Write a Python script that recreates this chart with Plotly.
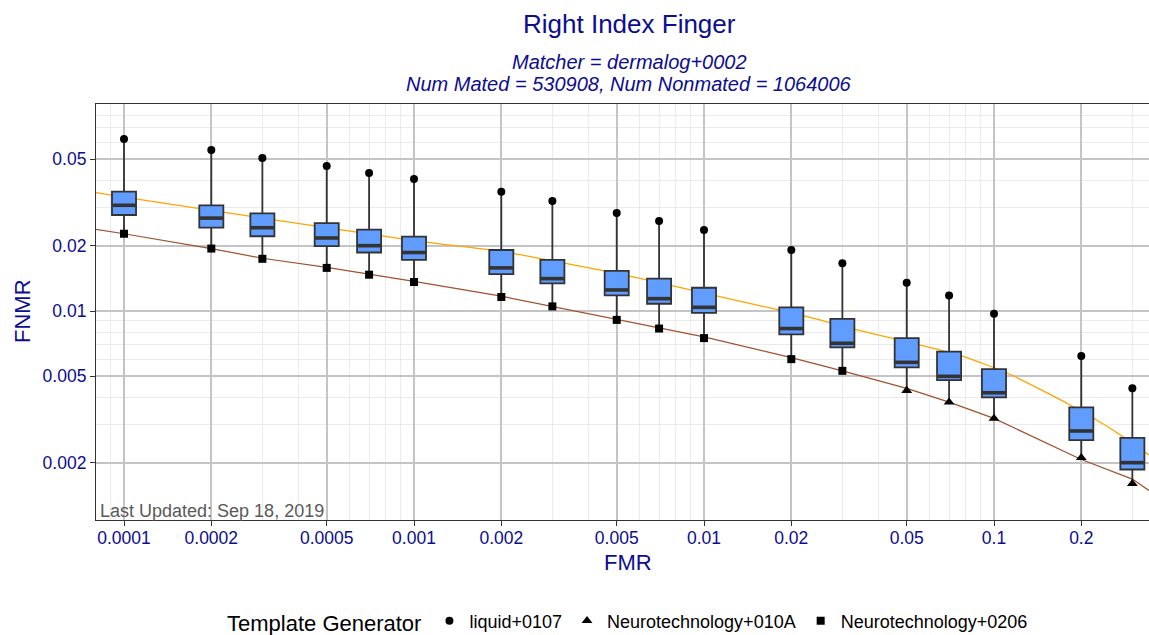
import numpy as np
import plotly.graph_objects as go

# ---------------- data ----------------
fmr = [0.0001, 0.0002, 0.0003, 0.0005, 0.0007, 0.001, 0.002, 0.003, 0.005,
       0.007, 0.01, 0.02, 0.03, 0.05, 0.07, 0.1, 0.2, 0.3]

# upper whisker end = liquid+0107 point
liquid_max = [0.0620, 0.0552, 0.0507, 0.0466, 0.0433, 0.0406, 0.0354, 0.0321, 0.0283,
              0.0260, 0.0236, 0.0191, 0.0166, 0.0135, 0.0118, 0.0097, 0.0062, 0.0044]
box_q3 = [0.0355, 0.0307, 0.0282, 0.0254, 0.0237, 0.0220, 0.0191, 0.0172, 0.0153,
          0.0141, 0.0128, 0.0104, 0.0092, 0.0075, 0.0065, 0.0054, 0.0036, 0.0026]
box_median = [0.0307, 0.0268, 0.0242, 0.0217, 0.0200, 0.0186, 0.0158, 0.0141, 0.0125,
              0.0114, 0.0104, 0.0083, 0.0071, 0.0058, 0.0050, 0.0042, 0.0028, 0.0020]
box_q1 = [0.0277, 0.0242, 0.0221, 0.0199, 0.0186, 0.0172, 0.0148, 0.0134, 0.0118,
          0.0108, 0.0098, 0.0078, 0.0068, 0.0055, 0.0048, 0.0040, 0.00254, 0.00186]
# lower whisker end = best Neurotechnology generator
neuro_min = [0.0227, 0.0194, 0.0174, 0.0158, 0.0147, 0.0136, 0.0116, 0.0105, 0.0091,
             0.0083, 0.0075, 0.0060, 0.0053, 0.0043, 0.0038, 0.0032, 0.00211, 0.00160]
min_generator = (["Neurotechnology+0206"] * 13) + (["Neurotechnology+010A"] * 5)

# orange reference curve
orange_fmr = [8.0e-5, 1e-4, 1e-3, 2e-3, 5e-3, 1e-2, 0.0223, 0.0337, 0.0556, 0.0776,
              0.111, 0.183, 0.257, 0.342]
orange_fnmr = [0.0351, 0.0335, 0.0211, 0.0188, 0.0149, 0.0121, 0.00948, 0.00818, 0.00697,
               0.0062, 0.00518, 0.00369, 0.00283, 0.00217]

# brown reference curve
brown_fmr = [8.0e-5, 1e-4, 2e-4, 3e-4, 5e-4, 7e-4, 1e-3, 2e-3, 3e-3, 5e-3, 7e-3,
             0.01, 0.02, 0.03, 0.05, 0.07, 0.1, 0.2, 0.3, 0.342]
brown_fnmr = [0.0238, 0.0227, 0.0194, 0.0175, 0.0159, 0.0148, 0.0137, 0.0117, 0.0105,
              0.0092, 0.0084, 0.0076, 0.0061, 0.0053, 0.0044, 0.0038, 0.0032, 0.00207,
              0.00168, 0.00149]

x_tick_vals = [0.0001, 0.0002, 0.0005, 0.001, 0.002, 0.005, 0.01, 0.02, 0.05, 0.1, 0.2]
x_tick_text = ["0.0001", "0.0002", "0.0005", "0.001", "0.002", "0.005", "0.01",
               "0.02", "0.05", "0.1", "0.2"]
y_tick_vals = [0.002, 0.005, 0.01, 0.02, 0.05]
y_tick_text = ["0.002", "0.005", "0.01", "0.02", "0.05"]

title_text = "Right Index Finger"
subtitle_1 = "Matcher = dermalog+0002"
subtitle_2 = "Num Mated = 530908, Num Nonmated = 1064006"
updated_text = "Last Updated: Sep 18, 2019"

# ---------------- styling ----------------
FONT = "Liberation Sans, Arial, Helvetica, sans-serif"
BLUE = "#0d0d8f"
X_RANGE = [-4.0966, -0.4655]          # log10 units
Y_RANGE = [-2.96313, -1.04608]        # log10 units
minor_x = [m * 10.0 ** k for k in range(-5, 0) for m in (3, 4, 6, 7, 8, 9)]
minor_y = [m * 10.0 ** k for k in range(-4, 0) for m in (3, 4, 6, 7, 8, 9)]

fig = go.Figure()

# curves (under the boxes)
fig.add_trace(go.Scatter(x=orange_fmr, y=orange_fnmr, mode="lines",
                         line=dict(color="#FFA500", width=1.3, shape="spline", smoothing=0.6),
                         showlegend=False, hoverinfo="skip"))
fig.add_trace(go.Scatter(x=brown_fmr, y=brown_fnmr, mode="lines",
                         line=dict(color="#A0522D", width=1.2),
                         showlegend=False, hoverinfo="skip"))

# boxes, on an overlaid linear axis measured in log10(FMR)
fig.add_trace(go.Box(x=np.log10(fmr), q1=box_q1, median=box_median, q3=box_q3,
                     lowerfence=neuro_min, upperfence=liquid_max,
                     orientation="v", width=0.083, whiskerwidth=0,
                     fillcolor="#619CFF", line=dict(color="#333333", width=1.8),
                     boxpoints=False, showlegend=False, hoverinfo="skip",
                     xaxis="x2", yaxis="y"))

# thick median bars
fig.add_trace(go.Scatter(x=fmr, y=box_median, mode="markers",
                         marker=dict(symbol="line-ew", size=16.3,
                                     line=dict(width=3.6, color="#333333")),
                         showlegend=False, hoverinfo="skip", xaxis="x3", yaxis="y"))

# points per template generator
fig.add_trace(go.Scatter(x=fmr, y=liquid_max, mode="markers", name="liquid+0107",
                         marker=dict(symbol="circle", size=8, color="black"),
                         xaxis="x3", yaxis="y"))
for gen, sym, size in [("Neurotechnology+010A", "triangle-up", 9.5),
                       ("Neurotechnology+0206", "square", 8)]:
    xs = [f for f, g in zip(fmr, min_generator) if g == gen]
    ys = [v for v, g in zip(neuro_min, min_generator) if g == gen]
    fig.add_trace(go.Scatter(x=xs, y=ys, mode="markers", name=gen,
                             marker=dict(symbol=sym, size=size, color="black"),
                             xaxis="x3", yaxis="y"))

W, H = 1149, 635
L, R, T, B = 96, 0, 104, 115
PW, PH = W - L - R, H - T - B


def px(xp):
    return (xp - L) / PW


def py(yp):
    return (H - B - yp) / PH


axis_common = dict(
    showgrid=True, gridcolor="#C4C4C4", gridwidth=1.6,
    ticks="outside", ticklen=5, tickwidth=1.2, tickcolor="#333333",
    showline=True, linecolor="#333333", linewidth=1.2, zeroline=False,
    automargin=False,
    tickfont=dict(family=FONT, size=17.5, color=BLUE),
)

fig.update_layout(
    width=W, height=H,
    margin=dict(l=L, r=R, t=T, b=B, pad=0, autoexpand=False),
    paper_bgcolor="white", plot_bgcolor="white",
    font=dict(family=FONT, color="black"),
    xaxis=dict(type="log", range=X_RANGE, tickmode="array",
               tickvals=x_tick_vals, ticktext=x_tick_text, mirror=True,
               ticklabelstandoff=-3,
               minor=dict(tickmode="array", tickvals=minor_x, showgrid=True,
                          gridcolor="#EBEBEB", gridwidth=1.2, ticks=""),
               **axis_common),
    xaxis2=dict(type="linear", range=X_RANGE, overlaying="x", anchor="y",
                visible=False, showgrid=False, zeroline=False),
    xaxis3=dict(type="log", range=X_RANGE, overlaying="x", anchor="y",
                visible=False, showgrid=False, zeroline=False),
    yaxis=dict(type="log", range=Y_RANGE, tickmode="array",
               tickvals=y_tick_vals, ticktext=y_tick_text,
               minor=dict(tickmode="array", tickvals=minor_y, showgrid=True,
                          gridcolor="#EBEBEB", gridwidth=1.2, ticks=""),
               **axis_common),
    legend=dict(orientation="h", x=px(629), xanchor="center", y=py(622), yanchor="middle",
                title=dict(text="Template Generator", side="left",
                           font=dict(family=FONT, size=22, color="black")),
                font=dict(family=FONT, size=18, color="black"),
                bgcolor="rgba(0,0,0,0)", itemsizing="trace"),
    showlegend=True,
    annotations=[
        dict(text=title_text, xref="paper", yref="paper", x=px(629), y=py(24),
             xanchor="center", yanchor="middle", showarrow=False,
             font=dict(family=FONT, size=26, color=BLUE)),
        dict(text="<i>" + subtitle_1 + "</i>", xref="paper", yref="paper", x=px(629), y=py(61.5),
             xanchor="center", yanchor="middle", showarrow=False,
             font=dict(family=FONT, size=20, color=BLUE)),
        dict(text="<i>" + subtitle_2 + "</i>", xref="paper", yref="paper", x=px(629), y=py(84),
             xanchor="center", yanchor="middle", showarrow=False,
             font=dict(family=FONT, size=20, color=BLUE)),
        dict(text="FNMR", xref="paper", yref="paper", x=px(22), y=py(311),
             xanchor="center", yanchor="middle", textangle=-90, showarrow=False,
             font=dict(family=FONT, size=22, color=BLUE)),
        dict(text="FMR", xref="paper", yref="paper", x=px(628), y=py(562),
             xanchor="center", yanchor="middle", showarrow=False,
             font=dict(family=FONT, size=22, color=BLUE)),
        dict(text=updated_text, xref="paper", yref="paper", x=px(99), y=py(511),
             xanchor="left", yanchor="middle", showarrow=False, borderpad=0,
             font=dict(family=FONT, size=18, color="#595959")),
    ],
)

fig.write_html("out.html", config={"displayModeBar": False})

# remove the browser's default 8px page margin so the figure sits at the window corner
with open("out.html", "r", encoding="utf-8") as fh:
    html = fh.read()
html = html.replace("<head>", "<head><style>html,body{margin:0;padding:0;overflow:hidden;}</style>", 1)
with open("out.html", "w", encoding="utf-8") as fh:
    fh.write(html)
